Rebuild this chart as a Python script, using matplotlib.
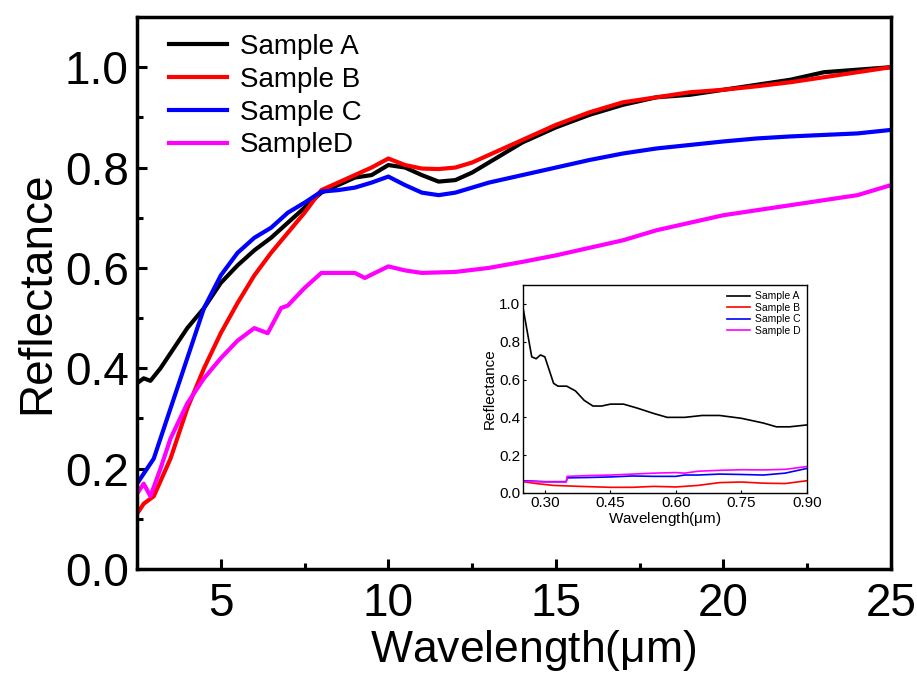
import numpy as np
import matplotlib
matplotlib.use('Agg')
import matplotlib.pyplot as plt
from matplotlib.ticker import MultipleLocator

plt.rcParams['font.family'] = ['Liberation Sans', 'DejaVu Sans']
plt.rcParams['mathtext.fontset'] = 'custom'
plt.rcParams['mathtext.rm'] = 'Liberation Sans'

# main plot: mid-IR reflectance
wl_a = [2.5, 2.7, 2.9, 3.2, 3.6, 4.0, 4.5, 5.0, 5.5, 6.0, 6.5, 7.0, 7.5, 8.0, 8.5, 9.0, 9.5,
        10.0, 10.5, 11.0, 11.5, 12.0, 12.5, 13.0, 13.5, 14.0, 14.5, 15.0, 16.0, 17.0, 18.0,
        19.0, 20.0, 21.0, 22.0, 23.0, 24.0, 25.0]
ref_a = [0.37, 0.38, 0.375, 0.40, 0.44, 0.48, 0.52, 0.57, 0.605, 0.635, 0.66, 0.69, 0.72, 0.75,
         0.765, 0.78, 0.785, 0.805, 0.80, 0.785, 0.772, 0.775, 0.79, 0.81, 0.83, 0.85, 0.865,
         0.88, 0.905, 0.925, 0.94, 0.945, 0.955, 0.965, 0.975, 0.99, 0.995, 1.0]

wl_b = [2.5, 2.7, 3.0, 3.5, 4.0, 4.5, 5.0, 5.5, 6.0, 6.5, 7.0, 7.5, 8.0, 8.5, 9.0, 9.5, 10.0,
        10.5, 11.0, 11.5, 12.0, 12.5, 13.0, 13.5, 14.0, 14.5, 15.0, 16.0, 17.0, 18.0, 19.0,
        20.0, 21.0, 22.0, 23.0, 24.0, 25.0]
ref_b = [0.11, 0.13, 0.145, 0.22, 0.32, 0.40, 0.47, 0.53, 0.585, 0.63, 0.67, 0.71, 0.755, 0.77,
         0.785, 0.80, 0.818, 0.805, 0.798, 0.797, 0.80, 0.81, 0.825, 0.84, 0.855, 0.87, 0.885,
         0.91, 0.93, 0.94, 0.95, 0.955, 0.962, 0.97, 0.98, 0.99, 1.0]

wl_c = [2.5, 2.7, 3.0, 3.5, 4.0, 4.5, 5.0, 5.5, 6.0, 6.5, 7.0, 7.5, 8.0, 8.5, 9.0, 9.5, 10.0,
        10.5, 11.0, 11.5, 12.0, 12.5, 13.0, 14.0, 15.0, 16.0, 17.0, 18.0, 19.0, 20.0, 21.0,
        22.0, 23.0, 24.0, 25.0]
ref_c = [0.17, 0.19, 0.22, 0.32, 0.42, 0.52, 0.585, 0.63, 0.66, 0.68, 0.71, 0.73, 0.752, 0.755,
         0.76, 0.77, 0.782, 0.765, 0.75, 0.745, 0.75, 0.76, 0.77, 0.785, 0.80, 0.815, 0.828,
         0.838, 0.845, 0.852, 0.858, 0.862, 0.865, 0.868, 0.875]

wl_d = [2.5, 2.7, 2.9, 3.2, 3.5, 4.0, 4.5, 5.0, 5.5, 6.0, 6.4, 6.8, 7.0, 7.5, 8.0, 8.5, 9.0,
        9.3, 9.6, 10.0, 10.5, 11.0, 12.0, 13.0, 14.0, 15.0, 16.0, 17.0, 18.0, 19.0, 20.0,
        21.0, 22.0, 23.0, 24.0, 25.0]
ref_d = [0.15, 0.17, 0.145, 0.20, 0.26, 0.33, 0.38, 0.42, 0.455, 0.48, 0.47, 0.52, 0.525, 0.56,
         0.59, 0.59, 0.59, 0.58, 0.59, 0.603, 0.595, 0.59, 0.592, 0.60, 0.612, 0.625, 0.64,
         0.655, 0.675, 0.69, 0.705, 0.715, 0.725, 0.735, 0.745, 0.765]

# inset: UV-vis reflectance
uv_a = [0.25, 0.26, 0.27, 0.28, 0.29, 0.30, 0.31, 0.32, 0.33, 0.35, 0.37, 0.39, 0.41, 0.43,
        0.45, 0.48, 0.51, 0.55, 0.58, 0.62, 0.66, 0.70, 0.75, 0.80, 0.83, 0.86, 0.88, 0.90]
uv_ref_a = [0.98, 0.85, 0.72, 0.71, 0.73, 0.72, 0.65, 0.58, 0.565, 0.565, 0.54, 0.49, 0.46,
            0.46, 0.47, 0.47, 0.45, 0.42, 0.40, 0.40, 0.41, 0.41, 0.395, 0.37, 0.35, 0.35,
            0.355, 0.36]
uv_b = [0.25, 0.28, 0.32, 0.38, 0.45, 0.50, 0.55, 0.60, 0.65, 0.70, 0.75, 0.80, 0.85, 0.90]
uv_ref_b = [0.06, 0.05, 0.04, 0.035, 0.03, 0.03, 0.035, 0.032, 0.04, 0.055, 0.058, 0.052,
            0.05, 0.065]
uv_c = [0.25, 0.30, 0.349, 0.351, 0.40, 0.45, 0.50, 0.55, 0.60, 0.62, 0.65, 0.70, 0.75, 0.80,
        0.85, 0.90]
uv_ref_c = [0.065, 0.06, 0.06, 0.08, 0.082, 0.085, 0.09, 0.088, 0.088, 0.095, 0.095, 0.10,
            0.098, 0.095, 0.105, 0.13]
uv_d = [0.25, 0.30, 0.349, 0.351, 0.40, 0.45, 0.50, 0.55, 0.60, 0.62, 0.65, 0.70, 0.75, 0.80,
        0.85, 0.90]
uv_ref_d = [0.062, 0.058, 0.058, 0.088, 0.092, 0.095, 0.10, 0.105, 0.108, 0.105, 0.115, 0.12,
            0.123, 0.122, 0.125, 0.14]

colors = ['black', 'red', 'blue', 'magenta']

fig = plt.figure(figsize=(9.17, 6.79), dpi=100)
ax = fig.add_axes([137 / 917, 1 - 569 / 679, (891 - 137) / 917, (569 - 17) / 679])

ax.plot(wl_a, ref_a, color=colors[0], lw=3, label='Sample A')
ax.plot(wl_b, ref_b, color=colors[1], lw=3, label='Sample B')
ax.plot(wl_c, ref_c, color=colors[2], lw=3, label='Sample C')
ax.plot(wl_d, ref_d, color=colors[3], lw=3, label='SampleD')

ax.set_xlim(2.5, 25)
ax.set_ylim(0, 1.1)
ax.xaxis.set_major_locator(MultipleLocator(5))
ax.xaxis.set_minor_locator(MultipleLocator(2.5))
ax.yaxis.set_major_locator(MultipleLocator(0.2))
ax.yaxis.set_minor_locator(MultipleLocator(0.1))
ax.tick_params(which='both', direction='in', labelsize=33, width=2.2)
ax.tick_params(which='major', length=7, pad=6)
ax.tick_params(which='minor', length=4)
ax.tick_params(axis='x', which='major', pad=9)
for s in ax.spines.values():
    s.set_linewidth(2.5)
ax.set_xlabel(r'Wavelength($\mathrm{\mu}$m)', fontsize=32, va='top')
ax.xaxis.set_label_coords(0.526, -0.106)
ax.set_ylabel('Reflectance', fontsize=33, labelpad=4)
ax.legend(loc='upper left', frameon=False, fontsize=20, handlelength=2.1,
          handletextpad=0.45, labelspacing=0.25, borderaxespad=0.2,
          bbox_to_anchor=(0.02, 1.0))

# inset
ins = fig.add_axes([523 / 917, 1 - 493 / 679, (807 - 523) / 917, (493 - 285) / 679])
ins.plot(uv_a, uv_ref_a, color=colors[0], lw=1.2, label='Sample A')
ins.plot(uv_b, uv_ref_b, color=colors[1], lw=1.2, label='Sample B')
ins.plot(uv_c, uv_ref_c, color=colors[2], lw=1.2, label='Sample C')
ins.plot(uv_d, uv_ref_d, color=colors[3], lw=1.2, label='Sample D')
ins.set_xlim(0.25, 0.9)
ins.set_ylim(0, 1.1)
ins.set_xticks([0.30, 0.45, 0.60, 0.75, 0.90])
ins.set_yticks([0.0, 0.2, 0.4, 0.6, 0.8, 1.0])
ins.tick_params(direction='in', labelsize=11, length=2, pad=2)
for s in ins.spines.values():
    s.set_linewidth(1.0)
ins.set_xlabel(r'Wavelength($\mathrm{\mu}$m)', fontsize=11, labelpad=0)
ins.set_ylabel('Reflectance', fontsize=11, labelpad=2)
ins.legend(loc='upper right', frameon=False, fontsize=7.5, handlelength=2.2,
           handletextpad=0.5, labelspacing=0.15, borderaxespad=0.2)

fig.savefig('out.png', dpi=100)
